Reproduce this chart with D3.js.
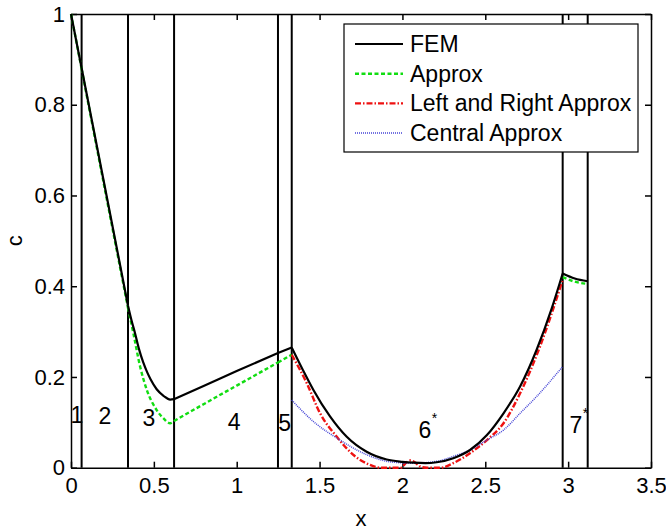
<!DOCTYPE html>
<html>
<head>
<meta charset="utf-8">
<script src="https://cdn.jsdelivr.net/npm/d3@7"></script>
<style>
  body { margin: 0; background: #fff; }
  text { font-family: "Liberation Sans", Arial, Helvetica, sans-serif; }
  .axis path, .axis line { stroke: #000; stroke-width: 1.5; }
  .axis text { font-size: 22px; fill: #000; }
</style>
</head>
<body>
<svg class="chart"></svg>
<script>
// Data
var femX = [0, 0.064, 0.2, 0.344, 0.365, 0.386, 0.41, 0.436, 0.46, 0.48, 0.517, 0.56, 0.598, 0.622, 0.8, 1.0, 1.249, 1.332,
            1.40, 1.462, 1.563, 1.664, 1.784, 1.905, 2.0, 2.066, 2.14, 2.207, 2.307, 2.408, 2.51, 2.61, 2.71, 2.81, 2.90, 2.967,
            3.04, 3.118];
var femC = [1, 0.881, 0.627, 0.357, 0.325, 0.297, 0.262, 0.232, 0.21, 0.195, 0.173, 0.158, 0.150, 0.151, 0.180, 0.213, 0.253, 0.265,
            0.215, 0.172, 0.113, 0.068, 0.035, 0.018, 0.013, 0.011, 0.010, 0.012, 0.021, 0.039, 0.072, 0.12, 0.179, 0.26, 0.35, 0.428,
            0.417, 0.411];

var approxX = [0, 0.064, 0.2, 0.344, 0.376, 0.417, 0.457, 0.517, 0.56, 0.598, 0.622, 0.8, 1.0, 1.249, 1.332,
               2.0, 2.967, 3.04, 3.118];
var approxC = [1, 0.879, 0.622, 0.352, 0.297, 0.223, 0.172, 0.127, 0.108, 0.098, 0.103, 0.140, 0.181, 0.232, 0.249,
               null, 0.42, 0.41, 0.405];

var lrX = [1.332, 1.423, 1.503, 1.604, 1.705, 1.805, 1.87, 1.99, 2.02, 2.046, 2.075, 2.11, 2.15, 2.23,
           2.307, 2.408, 2.51, 2.61, 2.71, 2.83, 2.967];
var lrC = [0.249, 0.186, 0.12, 0.068, 0.028, 0.006, 0, 0, 0.01, 0.016, 0.012, 0.002, 0, 0,
           0.01, 0.032, 0.061, 0.098, 0.164, 0.267, 0.414];

var centralX = [1.332, 1.462, 1.623, 1.764, 1.925, 2.066, 2.207, 2.307, 2.408, 2.51, 2.61, 2.71, 2.81, 2.967];
var centralC = [0.149, 0.102, 0.061, 0.032, 0.013, 0.01, 0.014, 0.025, 0.039, 0.061, 0.083, 0.12, 0.157, 0.223];

// region boundaries and labels
var bounds = [0.064, 0.344, 0.622, 1.249, 1.332, 2.967, 3.118];
var regionLabels = ["1", "2", "3", "4", "5", "6", "7"];
var regionStar = [false, false, false, false, false, true, true];
var labelX = [0.035, 0.205, 0.47, 0.985, 1.29, 2.136, 3.047];
var labelY = [0.117, 0.113, 0.11, 0.101, 0.099, 0.083, 0.094];

var xTicks = [0, 0.5, 1, 1.5, 2, 2.5, 3, 3.5];
var yTicks = [0, 0.2, 0.4, 0.6, 0.8, 1];

var seriesNames = ["FEM", "Approx", "Left and Right Approx", "Central Approx"];

var margin = {top: 14, right: 15, bottom: 64, left: 71},
    width = 666 - margin.left - margin.right,
    height = 532 - margin.top - margin.bottom - 0.3;

var x = d3.scaleLinear().domain([0, 3.5]).range([0, width]);
var y = d3.scaleLinear().domain([0, 1]).range([height, 0]);

var svg = d3.select(".chart")
    .attr("width", 666)
    .attr("height", 532);

var chart = svg.append("g")
    .attr("transform", "translate(" + margin.left + "," + margin.top + ")");

// Axes (ticks inside, like matlab)
chart.append("g")
    .attr("class", "axis")
    .attr("transform", "translate(0," + height + ")")
    .call(d3.axisBottom(x).tickValues(xTicks).tickSizeInner(-6).tickSizeOuter(0)
          .tickPadding(10).tickFormat(d3.format("~g")));
chart.append("g")
    .attr("class", "axis")
    .call(d3.axisLeft(y).tickValues(yTicks).tickSizeInner(-6).tickSizeOuter(0)
          .tickPadding(6).tickFormat(d3.format("~g")));
chart.append("g")
    .attr("class", "axis")
    .call(d3.axisTop(x).tickValues(xTicks).tickSizeInner(-6).tickSizeOuter(0).tickFormat(""));
chart.append("g")
    .attr("class", "axis")
    .attr("transform", "translate(" + width + ",0)")
    .call(d3.axisRight(y).tickValues(yTicks).tickSizeInner(-6).tickSizeOuter(0).tickFormat(""));

// axis titles
chart.append("text")
    .attr("x", x(1.75))
    .attr("y", height + 58)
    .attr("text-anchor", "middle")
    .style("font-size", "22px")
    .text("x");
chart.append("text")
    .attr("transform", "translate(" + (-57) + "," + y(0.5) + ") rotate(-90)")
    .attr("text-anchor", "middle")
    .attr("dy", "0.35em")
    .style("font-size", "22px")
    .text("c");

// region boundary lines
chart.selectAll(".bound")
    .data(bounds)
    .enter().append("line")
    .attr("class", "bound")
    .attr("x1", function(d) { return x(d); })
    .attr("x2", function(d) { return x(d); })
    .attr("y1", y(0))
    .attr("y2", y(1))
    .attr("stroke", "#000")
    .attr("stroke-width", 2);

// region labels
chart.selectAll(".rlabel")
    .data(regionLabels)
    .enter().append("text")
    .attr("class", "rlabel")
    .attr("x", function(d, i) { return x(labelX[i]); })
    .attr("y", function(d, i) { return y(labelY[i]); })
    .attr("text-anchor", "middle")
    .attr("dy", "0.35em")
    .style("font-size", "23px")
    .text(function(d) { return d; });
chart.selectAll(".rstar")
    .data(regionLabels.filter(function(d, i) { return regionStar[i]; }))
    .enter().append("text")
    .attr("class", "rstar")
    .attr("x", function(d) { return x(labelX[regionLabels.indexOf(d)]) + 9.5; })
    .attr("y", function(d) { return y(labelY[regionLabels.indexOf(d)]) - 15; })
    .attr("text-anchor", "middle")
    .attr("dy", "0.6em")
    .style("font-size", "14px")
    .text("*");

// split a series at the region boundaries so kinks stay sharp
function pieces(xs, cs) {
  var pts = xs.map(function(v, i) { return [v, cs[i]]; });
  var edges = [0].concat(bounds).concat([3.5]);
  var out = [];
  for (var i = 0; i < edges.length - 1; i++) {
    var seg = pts.filter(function(p) { return p[0] >= edges[i] - 1e-9 && p[0] <= edges[i + 1] + 1e-9; });
    if (seg.length > 1) out.push(seg);
  }
  return out;
}

var line = d3.line()
    .defined(function(d) { return d[1] != null; })
    .x(function(d) { return x(d[0]); })
    .y(function(d) { return y(d[1]); })
    .curve(d3.curveMonotoneX);

var styles = [
  {color: "#000000", width: 2.2, dash: null},
  {color: "#11dd11", width: 2.4, dash: "4,2.5"},
  {color: "#ee1111", width: 2.4, dash: "6,2,1.5,2"},
  {color: "#4646d6", width: 1.5, dash: "1,1"}
];
var series = [[approxX, approxC], [lrX, lrC], [centralX, centralC], [femX, femC]];
var order = [1, 2, 3, 0];

series.forEach(function(s, k) {
  var st = styles[order[k]];
  chart.selectAll(".s" + k)
    .data(pieces(s[0], s[1]))
    .enter().append("path")
    .attr("class", "s" + k)
    .attr("d", line)
    .attr("fill", "none")
    .attr("stroke", st.color)
    .attr("stroke-width", st.width)
    .attr("stroke-dasharray", st.dash);
});

// Legend
var legend = svg.append("g").attr("transform", "translate(344,24)");
legend.append("rect")
    .attr("width", 294)
    .attr("height", 128)
    .attr("fill", "#fff")
    .attr("stroke", "#000")
    .attr("stroke-width", 1.2);
var item = legend.selectAll(".item")
    .data(seriesNames)
    .enter().append("g")
    .attr("class", "item")
    .attr("transform", function(d, i) { return "translate(0," + (20 + i * 29.7) + ")"; });
item.append("line")
    .attr("x1", 11).attr("x2", 59)
    .attr("stroke", function(d, i) { return styles[i].color; })
    .attr("stroke-width", function(d, i) { return styles[i].width; })
    .attr("stroke-dasharray", function(d, i) { return styles[i].dash; });
item.append("text")
    .attr("x", 66)
    .attr("dy", "0.35em")
    .style("font-size", "23px")
    .text(function(d) { return d; });
</script>
</body>
</html>
